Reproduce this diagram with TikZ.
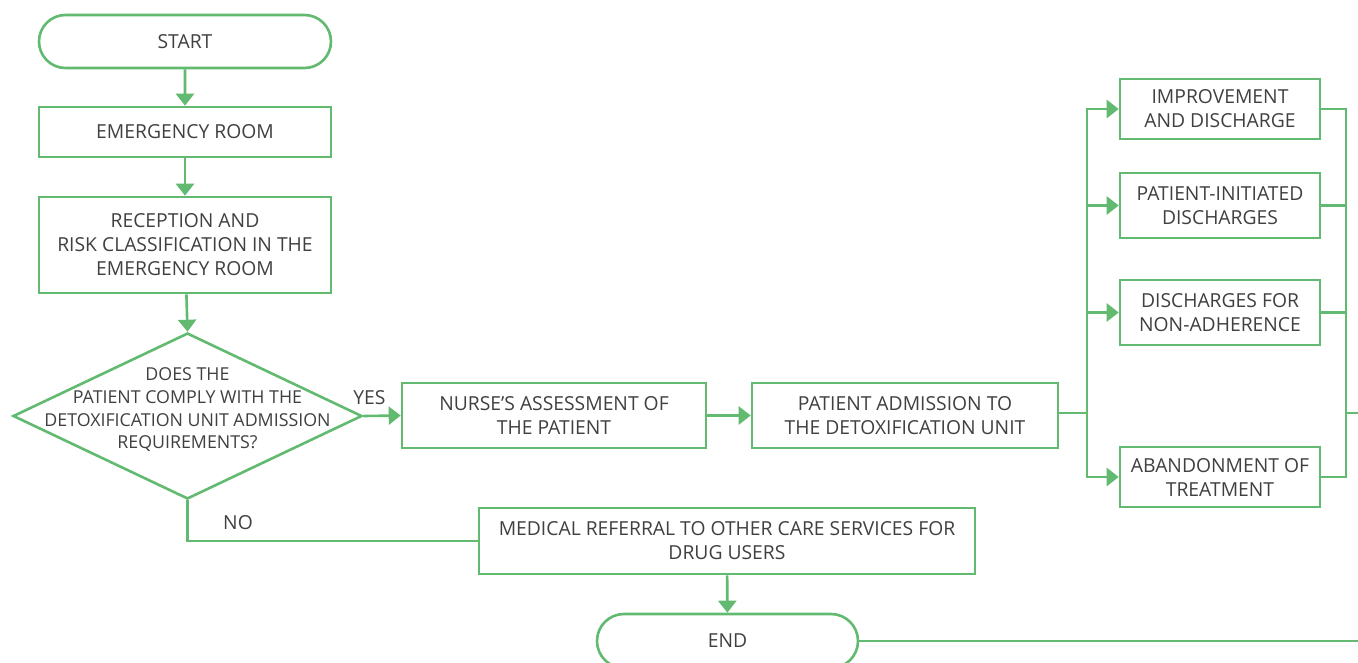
\documentclass[tikz,border=0pt]{standalone}
\usepackage{fontspec}
\setmainfont{Open Sans}
\usetikzlibrary{shapes.geometric,shapes.misc,arrows.meta}
\definecolor{fc}{RGB}{98,186,112}
\definecolor{txt}{RGB}{64,64,64}
\begin{document}
\begin{tikzpicture}[x=1pt,y=1pt,
  base/.style={draw=fc, line width=2.6pt, inner sep=0pt, align=center, text=txt,
    font=\fontsize{19.3}{24}\selectfont},
  box/.style={base, rectangle},
  term/.style={base, rounded rectangle},
  dia/.style={base, diamond},
  lbl/.style={text=txt, font=\fontsize{19.3}{24}\selectfont, inner sep=0pt},
  conn/.style={draw=fc, line width=2.6pt},
  arr/.style={conn, -{Triangle[length=12pt,width=18pt]}},
]
\useasboundingbox (0,0) rectangle (1358,-662);
\fill[white] (0,0) rectangle (1358,-662);

\node[term, minimum width=292pt, minimum height=53pt] (start) at (185,-41.5) {START};
\node[box, minimum width=292pt, minimum height=50pt] (er) at (185,-132) {EMERGENCY ROOM};
\node[box, minimum width=292pt, minimum height=96pt] (rec) at (185,-245) {\raisebox{-2pt}{\parbox{280pt}{\centering RECEPTION AND\\RISK CLASSIFICATION IN THE\\EMERGENCY ROOM}}};
\node[dia, minimum width=349pt, minimum height=166pt] (dec) at (187.5,-416) {};
\node[lbl, align=center, font=\fontsize{17.8}{22.7}\selectfont] (dectext) at (187.5,-410) {DOES THE\\PATIENT COMPLY WITH THE\\DETOXIFICATION UNIT ADMISSION\\REQUIREMENTS?};
\node[lbl] (yes) at (369.5,-398) {YES};
\node[lbl] (no) at (238,-523) {NO};
\node[box, minimum width=304pt, minimum height=65pt] (nurse) at (554,-415.5) {NURSE\symbol{39}S ASSESSMENT OF\\THE PATIENT};
\node[box, minimum width=306pt, minimum height=65pt] (adm) at (905,-415.5) {PATIENT ADMISSION TO\\THE DETOXIFICATION UNIT};
\node[box, minimum width=200pt, minimum height=60pt] (imp) at (1220,-109) {IMPROVEMENT\\AND DISCHARGE};
\node[box, minimum width=200pt, minimum height=65pt] (pin) at (1220,-205.5) {PATIENT-INITIATED\\DISCHARGES};
\node[box, minimum width=200pt, minimum height=65pt] (dnon) at (1220,-312.5) {DISCHARGES FOR\\NON-ADHERENCE};
\node[box, minimum width=200pt, minimum height=60pt] (aban) at (1220,-477) {ABANDONMENT OF\\TREATMENT};
\node[box, minimum width=496pt, minimum height=66pt] (ref) at (727,-541) {MEDICAL REFERRAL TO OTHER CARE SERVICES FOR\\DRUG USERS};
\node[term, minimum width=261pt, minimum height=54pt] (end) at (727.5,-641) {END};

\coordinate (split) at (1087,-413);
\coordinate (merge) at (1346,-413);
\coordinate (out) at (1370,-413);
\coordinate (endout) at (1370,-641);

\draw[arr] (start) -- (er);
\draw[arr] (er) -- (rec);
\draw[arr] (rec) -- (dec.north);
\draw[arr] (dec.east) -- (nurse.west);
\draw[arr] (nurse) -- (adm);
\draw[conn] (adm.east |- split) -- (split);
\draw[arr] (split) |- (imp.west);
\draw[arr] (split) |- (pin.west);
\draw[arr] (split) |- (dnon.west);
\draw[arr] (split) |- (aban.west);
\draw[conn] (imp.east) -| (merge);
\draw[conn] (pin.east) -| (merge);
\draw[conn] (dnon.east) -| (merge);
\draw[conn] (aban.east) -| (merge);
\draw[conn] (merge) -- (out);
\draw[conn] (dec.south) |- (ref.west);
\draw[arr] (ref) -- (end);
\draw[conn] (end.east) -- (endout);
\end{tikzpicture}
\end{document}
